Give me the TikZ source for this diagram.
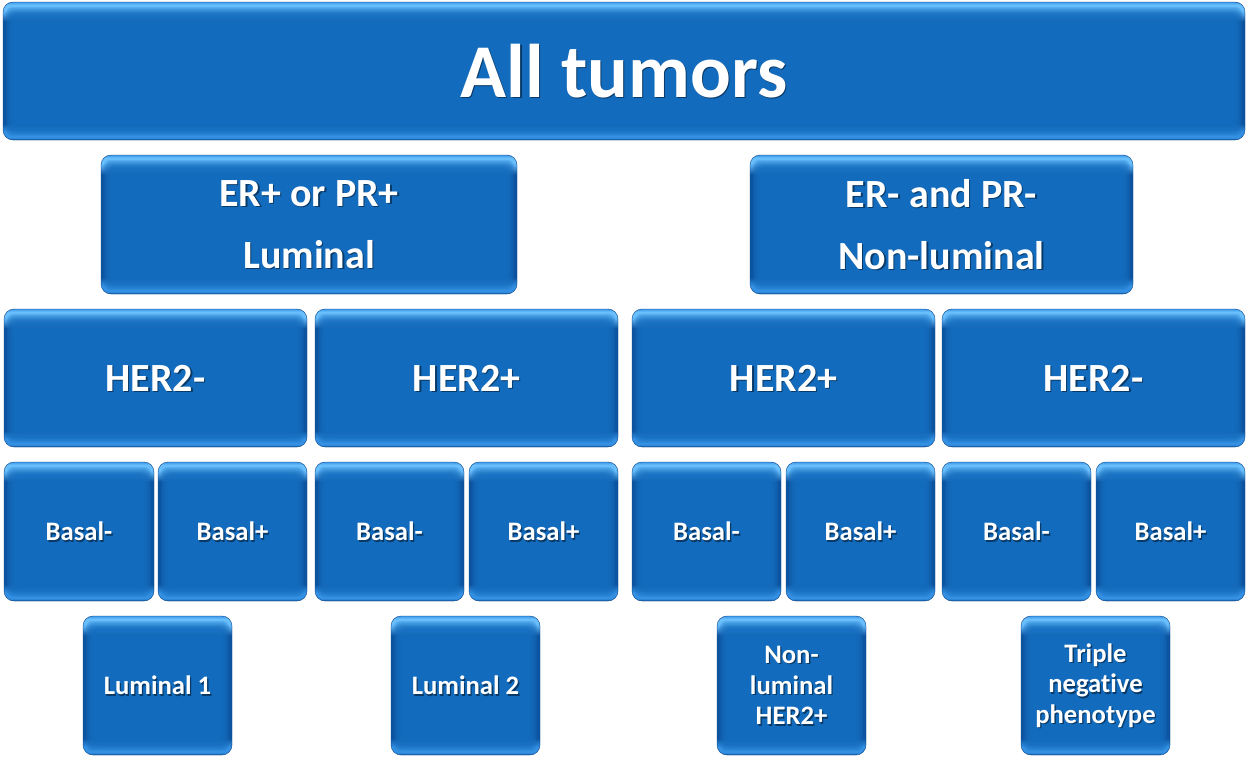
\documentclass[tikz,border=0pt]{standalone}
\usepackage{fontspec}
\setmainfont{Carlito}[Ligatures=NoCommon]
\usetikzlibrary{fit}
\definecolor{bmain}{RGB}{23,112,194}
\definecolor{btop}{RGB}{105,190,252}
\definecolor{btop2}{RGB}{60,152,232}
\definecolor{bbot}{RGB}{10,70,140}
\definecolor{bbot2}{RGB}{52,144,226}
\definecolor{bside}{RGB}{12,84,160}
\pgfdeclareverticalshading{bevelshade}{100bp}{color(0bp)=(bbot); color(25bp)=(bbot); color(25.8bp)=(bbot2); color(28bp)=(bbot2); color(31bp)=(bside); color(68bp)=(bside); color(72bp)=(btop); color(74bp)=(btop); color(75bp)=(btop2); color(100bp)=(btop2)}
\tikzset{
  bx/.style={inner sep=0pt, rounded corners=7.5pt, shading=bevelshade, draw=bbot, line width=0.3pt,
    path picture={
      \foreach \i in {1,...,16}{
        \fill[bmain, fill opacity=0.17, rounded corners=5pt] ([xshift=1.5pt+\i*0.5pt,yshift=-3pt-\i*0.65pt]path picture bounding box.north west) rectangle ([xshift=-1.5pt-\i*0.5pt,yshift=2.5pt+\i*0.55pt]path picture bounding box.south east);
      }
    }},
  txt/.style={text=white, font=\bfseries, align=center, inner sep=0pt},
  shd/.style={text=black, text opacity=0.45},
  thuge/.style={font=\bfseries\fontsize{57}{60}\selectfont},
  tbig/.style={font=\bfseries\fontsize{30}{46.5}\selectfont},
  tsmall/.style={font=\bfseries\fontsize{20}{23}\selectfont}
}
\newcommand\mybox[7][tsmall]{%
  \node[bx, fit={(#3,#4)(#5,#6)}] (#2) {};
  \node[txt,#1,shd] (#2s) at ([shift={(1pt,-1pt)}]#2.center) {#7};
  \node[txt,#1] (#2t) at (#2.center) {#7};
}
\begin{document}
\begin{tikzpicture}[x=0.75pt,y=-0.75pt]
\fill[white] (0,0) rectangle (1247,757);
\useasboundingbox (0,0) rectangle (1247,757);
\mybox[thuge]{all}{3}{2}{1245}{140}{All tumors}
\mybox[tbig]{lum}{101}{155}{517}{294}{ER+ or PR+\\Luminal}
\mybox[tbig]{nlum}{750}{155}{1133}{294}{ER- and PR-\\Non-luminal}
\mybox[tbig]{ha}{4}{309}{307}{447}{HER2-}
\mybox[tbig]{hb}{315}{309}{618}{447}{HER2+}
\mybox[tbig]{hc}{632}{309}{935}{447}{HER2+}
\mybox[tbig]{hd}{942}{309}{1245}{447}{HER2-}
\mybox{ba}{4}{462}{154}{601}{Basal-}
\mybox{bb}{158}{462}{307}{601}{Basal+}
\mybox{bc}{315}{462}{464}{601}{Basal-}
\mybox{bd}{469}{462}{618}{601}{Basal+}
\mybox{be}{632}{462}{781}{601}{Basal-}
\mybox{bf}{786}{462}{935}{601}{Basal+}
\mybox{bg}{942}{462}{1091}{601}{Basal-}
\mybox{bh}{1096}{462}{1245}{601}{Basal+}
\mybox{ra}{83}{616}{232}{755}{Luminal 1}
\mybox{rb}{391}{616}{540}{755}{Luminal 2}
\mybox{rc}{717}{616}{866}{755}{Non-\\luminal\\HER2+}
\mybox{rd}{1021}{616}{1170}{755}{Triple\\negative\\phenotype}
\end{tikzpicture}
\end{document}
